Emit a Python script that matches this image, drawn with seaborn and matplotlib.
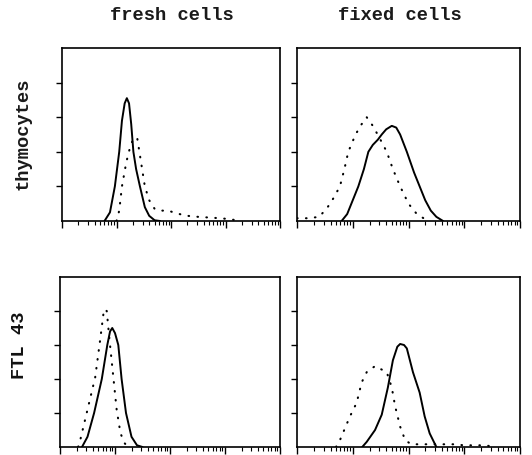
import numpy as np
import pandas as pd
import matplotlib
matplotlib.use("Agg")
import matplotlib.pyplot as plt
import seaborn as sns

sns.set_theme(style="white")
plt.rcParams['font.family'] = ['Liberation Mono', 'DejaVu Sans Mono']

col_titles = ["fresh cells", "fixed cells"]
row_titles = ["thymocytes", "FTL 43"]

# x positions in log10 decades of fluorescence, y = relative cell number
tl_solid_x = [0.78, 0.88, 0.97, 1.05, 1.10, 1.15, 1.19, 1.23, 1.27, 1.31, 1.36, 1.43, 1.52, 1.60, 1.70, 1.80]
tl_solid_y = [0.0, 0.25, 1.0, 2.0, 2.9, 3.4, 3.55, 3.4, 2.8, 2.0, 1.5, 1.0, 0.4, 0.15, 0.02, 0.0]
tl_dot_x = [1.00, 1.05, 1.10, 1.18, 1.26, 1.32, 1.38, 1.44, 1.52, 1.60, 1.70, 1.80, 1.95, 2.10, 2.30, 2.50, 2.70, 2.90, 3.10, 3.25]
tl_dot_y = [0.0, 0.3, 1.0, 1.7, 2.2, 2.4, 2.4, 1.8, 1.0, 0.6, 0.35, 0.3, 0.3, 0.22, 0.15, 0.12, 0.1, 0.08, 0.05, 0.0]

tr_solid_x = [0.80, 0.90, 1.00, 1.10, 1.20, 1.28, 1.36, 1.45, 1.52, 1.60, 1.70, 1.78, 1.85, 1.97, 2.10, 2.20, 2.30, 2.40, 2.50, 2.62]
tr_solid_y = [0.0, 0.2, 0.6, 1.0, 1.5, 2.0, 2.2, 2.35, 2.5, 2.65, 2.75, 2.7, 2.5, 2.0, 1.4, 1.0, 0.6, 0.3, 0.12, 0.0]
tr_dot_x = [0.00, 0.20, 0.40, 0.55, 0.65, 0.77, 0.85, 0.92, 1.05, 1.16, 1.25, 1.36, 1.48, 1.61, 1.72, 1.85, 2.00, 2.15, 2.30, 2.40]
tr_dot_y = [0.08, 0.08, 0.12, 0.4, 0.65, 1.0, 1.5, 2.0, 2.5, 2.8, 3.0, 2.75, 2.4, 2.0, 1.5, 1.0, 0.5, 0.2, 0.05, 0.0]

bl_solid_x = [0.40, 0.50, 0.62, 0.76, 0.86, 0.91, 0.95, 1.00, 1.06, 1.12, 1.20, 1.30, 1.40, 1.50]
bl_solid_y = [0.0, 0.3, 1.0, 2.0, 3.0, 3.4, 3.5, 3.35, 3.0, 2.0, 1.0, 0.3, 0.05, 0.0]
bl_dot_x = [0.33, 0.36, 0.50, 0.64, 0.73, 0.80, 0.85, 0.90, 0.97, 1.03, 1.10, 1.18, 1.25]
bl_dot_y = [0.0, 0.15, 1.1, 2.05, 3.15, 4.05, 4.0, 3.15, 2.05, 1.1, 0.4, 0.1, 0.0]

br_solid_x = [1.17, 1.25, 1.40, 1.52, 1.63, 1.72, 1.80, 1.85, 1.92, 1.97, 2.08, 2.20, 2.29, 2.38, 2.50]
br_solid_y = [0.0, 0.15, 0.5, 0.95, 1.75, 2.55, 2.95, 3.03, 3.0, 2.9, 2.2, 1.6, 0.9, 0.4, 0.0]
br_dot_x = [0.70, 0.77, 0.95, 1.07, 1.16, 1.25, 1.40, 1.61, 1.70, 1.76, 1.85, 1.94, 2.05, 2.40, 2.80, 3.00, 3.40, 3.50]
br_dot_y = [0.0, 0.2, 0.9, 1.3, 1.9, 2.2, 2.38, 2.2, 1.75, 1.2, 0.6, 0.2, 0.08, 0.08, 0.08, 0.05, 0.05, 0.0]

panels = [
    (tl_solid_x, tl_solid_y, tl_dot_x, tl_dot_y),
    (tr_solid_x, tr_solid_y, tr_dot_x, tr_dot_y),
    (bl_solid_x, bl_solid_y, bl_dot_x, bl_dot_y),
    (br_solid_x, br_solid_y, br_dot_x, br_dot_y),
]

W, H = 532, 455
fig = plt.figure(figsize=(W / 100, H / 100), dpi=100)

def rect(l, t, r, b):
    return [l / W, 1 - b / H, (r - l) / W, (b - t) / H]

rects = [rect(62, 48, 280, 221), rect(297, 48, 520, 221),
         rect(60, 277, 280, 447), rect(297, 277, 520, 447)]

minor = [d + np.log10(k) for d in range(4) for k in range(2, 10)]

for i, (r, (sx, sy, dx, dy)) in enumerate(zip(rects, panels)):
    ax = fig.add_axes(r)
    sns.lineplot(x=dx, y=dy, ax=ax, color="black", linewidth=1.5,
                 linestyle=(0, (0.3, 4.0)), dash_capstyle="round")
    sns.lineplot(x=sx, y=sy, ax=ax, color="black", linewidth=1.4)
    ax.set_xlim(0, 4)
    ax.set_ylim(0, 5)
    ax.set_xticks([0, 1, 2, 3, 4])
    ax.set_xticks(minor, minor=True)
    ax.set_yticks([1, 2, 3, 4])
    ax.set_xticklabels([])
    ax.set_yticklabels([])
    ax.tick_params(axis="x", which="major", direction="out", length=5, width=1.0, color="black", bottom=True)
    ax.tick_params(axis="x", which="minor", direction="out", length=3, width=0.8, color="black", bottom=True)
    ax.tick_params(axis="y", which="major", direction="out", length=4, width=1.0, color="black", left=True)
    for s in ax.spines.values():
        s.set_color("black")
        s.set_linewidth(1.2)
        s.set_visible(True)
    ax.set_xlabel("")
    ax.set_ylabel("")

fig.text(172 / W, 1 - 16 / H, col_titles[0], ha="center", va="center", fontsize=13.5, fontweight="bold", color="#1a1a1a")
fig.text(400 / W, 1 - 16 / H, col_titles[1], ha="center", va="center", fontsize=13.5, fontweight="bold", color="#1a1a1a")
fig.text(23 / W, 1 - 134 / H, row_titles[0], ha="center", va="center", rotation=90, fontsize=13.5, fontweight="bold", color="#1a1a1a")
fig.text(20 / W, 1 - 345 / H, row_titles[1], ha="center", va="center", rotation=90, fontsize=13.5, fontweight="bold", color="#111111")

fig.savefig("out.png", dpi=100, facecolor="white")
